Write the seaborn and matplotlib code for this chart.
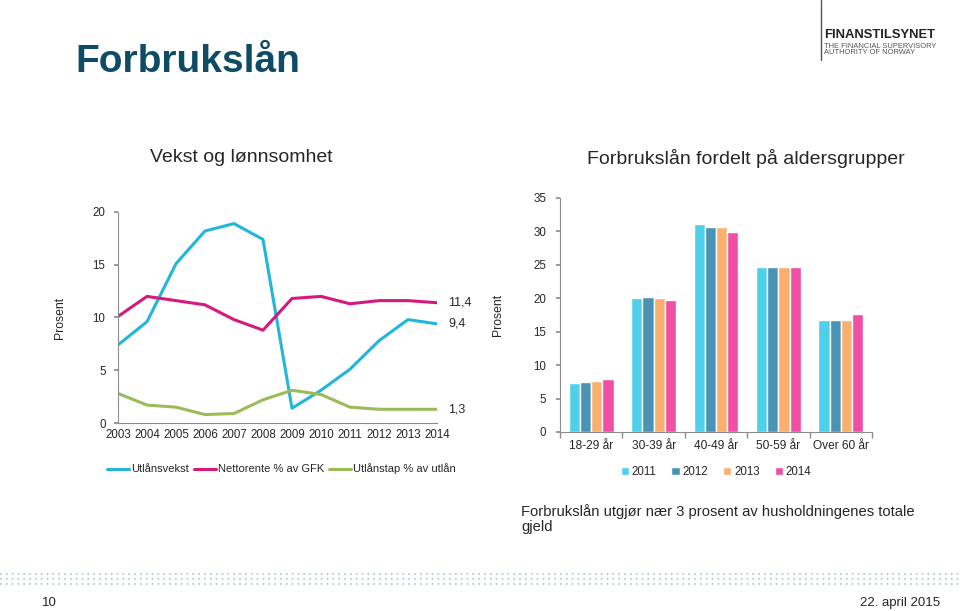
import matplotlib
matplotlib.use("Agg")
import matplotlib.pyplot as plt
import seaborn as sns
import pandas as pd
import numpy as np

years = list(range(2003, 2015))
utlansvekst = [7.4, 9.6, 15.1, 18.2, 18.9, 17.4, 1.4, 3.1, 5.1, 7.8, 9.8, 9.4]
nettorente = [10.1, 12.0, 11.6, 11.2, 9.8, 8.8, 11.8, 12.0, 11.3, 11.6, 11.6, 11.4]
utlanstap = [2.8, 1.7, 1.5, 0.8, 0.9, 2.2, 3.1, 2.7, 1.5, 1.3, 1.3, 1.3]
line_names = ["Utlånsvekst", "Nettorente % av GFK", "Utlånstap % av utlån"]
end_labels = ["9,4", "11,4", "1,3"]

age_groups = ["18-29 år", "30-39 år", "40-49 år", "50-59 år", "Over 60 år"]
bar_years = ["2011", "2012", "2013", "2014"]
v2011 = [7.3, 20.1, 31.1, 24.7, 16.7]
v2012 = [7.5, 20.2, 30.6, 24.7, 16.8]
v2013 = [7.7, 20.1, 30.6, 24.7, 16.7]
v2014 = [7.9, 19.7, 29.9, 24.7, 17.7]

sns.set_theme(style="white")
plt.rcParams['font.family'] = ['Liberation Sans', 'DejaVu Sans']
NARROW = ['Liberation Sans', 'DejaVu Sans']
FS = 8.3

line_colors = ["#21B6DA", "#D6197F", "#9BBB59"]
bar_colors = ["#4FD0EA", "#4A93B5", "#F9B06E", "#F04FA5"]

fig = plt.figure(figsize=(9.6, 6.11), dpi=100)

# ---- Line chart
df_line = pd.DataFrame({
    "year": years * 3,
    "value": utlansvekst + nettorente + utlanstap,
    "series": [line_names[0]] * 12 + [line_names[1]] * 12 + [line_names[2]] * 12,
})
ax1 = fig.add_axes([118/960, 1-423/611, (437-118)/960, (423-212)/611])
sns.lineplot(data=df_line, x="year", y="value", hue="series", palette=line_colors,
             linewidth=2.2, ax=ax1, legend=False)
ax1.set_xlim(2003, 2014)
ax1.set_ylim(0, 20)
ax1.set_xticks(years)
ax1.set_xticklabels([str(y) for y in years], fontsize=FS, family=NARROW)
ax1.set_yticks([0, 5, 10, 15, 20])
ax1.set_yticklabels(["0", "5", "10", "15", "20"], fontsize=FS, family=NARROW)
ax1.set_xlabel("")
ax1.set_ylabel("Prosent", fontsize=FS + 0.5, labelpad=19, family=NARROW)
for s in ["top", "right"]:
    ax1.spines[s].set_visible(False)
for s in ["left", "bottom"]:
    ax1.spines[s].set_color("#8C8C8C")
    ax1.spines[s].set_linewidth(0.8)
ax1.tick_params(axis="y", length=3, color="#8C8C8C", pad=6, direction="out", left=True)
ax1.tick_params(axis="x", length=0, pad=4)
for val, lab in zip([utlansvekst[-1], nettorente[-1], utlanstap[-1]], end_labels):
    ax1.annotate(lab, xy=(2014, val), xytext=(8, 0), textcoords="offset points",
                 va="center", ha="left", fontsize=FS + 0.7, family=NARROW)
for c, n in zip(line_colors, line_names):
    ax1.plot([], [], color=c, lw=2.2, label=n)
ax1.legend(loc="upper left", bbox_to_anchor=(-0.065, -0.145), ncol=3, frameon=False,
           prop={'family': NARROW, 'size': 8.0}, handlelength=2.0, handletextpad=0.15,
           columnspacing=0.45)

# ---- Bar chart
rows = []
for yr, vals in zip(bar_years, [v2011, v2012, v2013, v2014]):
    for g, v in zip(age_groups, vals):
        rows.append({"group": g, "year": yr, "value": v})
df_bar = pd.DataFrame(rows)
ax2 = fig.add_axes([560/960, 1-432/611, (872-560)/960, (432-198)/611])
sns.barplot(data=df_bar, x="group", y="value", hue="year", palette=bar_colors,
            width=0.72, ax=ax2, saturation=1, legend=True)
ax2.set_ylim(0, 35)
ax2.set_xlim(-0.5, 4.5)
ax2.set_yticks(range(0, 36, 5))
ax2.set_yticklabels([str(v) for v in range(0, 36, 5)], fontsize=FS, family=NARROW)
ax2.set_xticklabels(age_groups, fontsize=FS + 0.3, family=NARROW)
ax2.set_xlabel("")
ax2.set_ylabel("Prosent", fontsize=FS + 0.5, labelpad=21, family=NARROW)
for s in ["top", "right"]:
    ax2.spines[s].set_visible(False)
for s in ["left", "bottom"]:
    ax2.spines[s].set_color("#8C8C8C")
    ax2.spines[s].set_linewidth(0.8)
ax2.tick_params(axis="y", length=3, color="#8C8C8C", pad=7, direction="out", left=True)
ax2.set_xticks([0.5 + i for i in range(-1, 5)], minor=True)
ax2.tick_params(axis="x", which="major", length=0, pad=6)
ax2.tick_params(axis="x", which="minor", length=4, color="#8C8C8C", direction="out", bottom=True)
ax2.legend(loc="upper center", bbox_to_anchor=(0.5, -0.1), ncol=4, frameon=False,
           prop={'family': NARROW, 'size': 8.3}, handlelength=0.7, handleheight=0.7,
           handletextpad=0.25, columnspacing=1.3)

# ---- Texts
fig.text(75/960, 1-62/611, "Forbrukslån", fontsize=28, fontweight="bold",
         color="#0E4C66", va="center", ha="left")
fig.text(241/960, 1-157/611, "Vekst og lønnsomhet", fontsize=14, va="center", ha="center")
fig.text(746/960, 1-158/611, "Forbrukslån fordelt på aldersgrupper", fontsize=14,
         va="center", ha="center")
fig.text(521/960, 1-519/611,
         "Forbrukslån utgjør nær 3 prosent av husholdningenes totale\ngjeld",
         fontsize=10.6, va="center", ha="left", linespacing=1.15)

# logo
fig.add_artist(plt.Line2D([821/960, 821/960], [1-0/611, 1-60/611], color="#555555", lw=1))
fig.text(824/960, 1-35/611, "FINANSTILSYNET", fontsize=9.4, fontweight="bold",
         va="center", ha="left", color="#222222")
fig.text(824/960, 1-46/611, "THE FINANCIAL SUPERVISORY", fontsize=5.4, va="center",
         ha="left", color="#555555")
fig.text(824/960, 1-53/611, "AUTHORITY OF NORWAY", fontsize=5.4, va="center",
         ha="left", color="#555555")

# dotted lines at bottom
for yy in [574, 579, 584]:
    fig.add_artist(plt.Line2D([0, 1], [1-yy/611, 1-yy/611], color="#A9C3D2",
                              lw=1.2, linestyle=(0, (1, 2.5))))
fig.text(42/960, 1-603/611, "10", fontsize=9.5, va="center", ha="left", family=NARROW)
fig.text(940/960, 1-603/611, "22. april 2015", fontsize=9.5, va="center", ha="right",
         family=NARROW)

fig.savefig("out.png", dpi=100)
